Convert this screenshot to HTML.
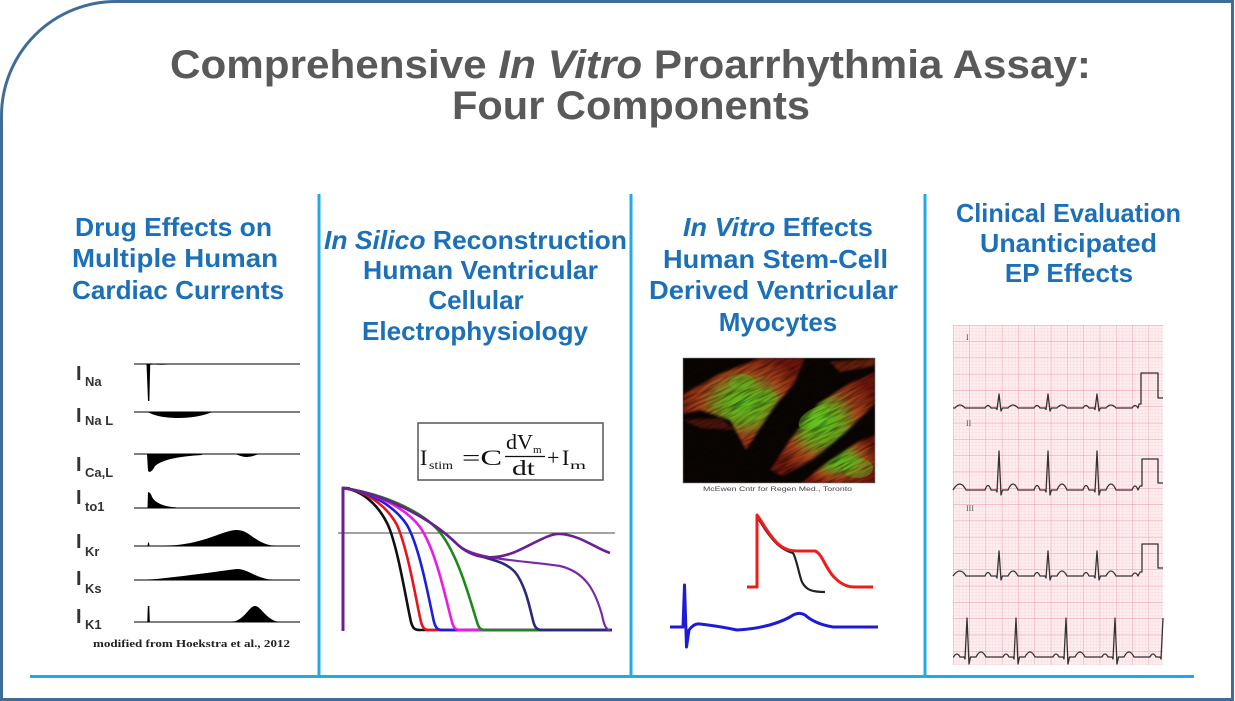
<!DOCTYPE html>
<html><head><meta charset="utf-8"><style>
html,body{margin:0;padding:0;background:#fff;}
svg{display:block;}
</style></head><body>
<svg width="1235" height="701" viewBox="0 0 1235 701" xmlns="http://www.w3.org/2000/svg">
<defs>
  <pattern id="minor" x="953" y="325" width="3.26" height="3.26" patternUnits="userSpaceOnUse">
    <path d="M0,0 H3.26 M0,0 V3.26" fill="none" stroke="#f7c6cd" stroke-width="0.5"/>
  </pattern>
  <pattern id="major" x="953" y="325" width="16.3" height="16.3" patternUnits="userSpaceOnUse">
    <path d="M0,0 H16.3 M0,0 V16.3" fill="none" stroke="#ee9ba7" stroke-width="0.9"/>
  </pattern>
  <radialGradient id="cellg" cx="50%" cy="50%" r="55%">
    <stop offset="0%" stop-color="#5cc421"/>
    <stop offset="35%" stop-color="#72a01c"/>
    <stop offset="65%" stop-color="#a8421a"/>
    <stop offset="100%" stop-color="#6a160a"/>
  </radialGradient>
  <filter id="blur" x="-10%" y="-10%" width="120%" height="120%"><feGaussianBlur stdDeviation="1.4"/></filter>
  <filter id="streak" x="0" y="0" width="100%" height="100%">
    <feTurbulence type="fractalNoise" baseFrequency="0.05 0.45" numOctaves="2" seed="7"/>
    <feColorMatrix type="matrix" values="0 0 0 0 0  0 0 0 0 0  0 0 0 0 0  2.2 0 0 0 -0.9"/>
  </filter>
  <clipPath id="imgclip"><rect x="683" y="358" width="192" height="125"/></clipPath>
</defs>

<rect width="1235" height="701" fill="#fff"/>

<!-- frame -->
<path d="M1.5,701 V116 A114.5,114.5 0 0 1 116,1.5 H1232.5 V699.5 H1.5" fill="none" stroke="#3f6d98" stroke-width="3"/>

<!-- title -->
<g font-family="'Liberation Sans', Arial, sans-serif" font-weight="bold" font-size="40" fill="#595959">
  <text x="170" y="78" textLength="921" lengthAdjust="spacingAndGlyphs">Comprehensive <tspan font-style="italic">In Vitro</tspan> Proarrhythmia Assay:</text>
  <text x="452" y="119" textLength="358" lengthAdjust="spacingAndGlyphs">Four Components</text>
</g>

<!-- blue dividers -->
<g stroke="#22a9e6" stroke-width="3" fill="none">
  <line x1="30" y1="676.5" x2="1194" y2="676.5"/>
  <line x1="319" y1="194" x2="319" y2="676"/>
  <line x1="631" y1="194" x2="631" y2="676"/>
  <line x1="925" y1="194" x2="925" y2="676"/>
</g>

<!-- headings -->
<g font-family="'Liberation Sans', Arial, sans-serif" font-weight="bold" font-size="26" fill="#1c70b8">
  <text x="75" y="236" textLength="197" lengthAdjust="spacingAndGlyphs">Drug Effects on</text>
  <text x="72" y="267" textLength="206" lengthAdjust="spacingAndGlyphs">Multiple Human</text>
  <text x="72" y="299" textLength="212" lengthAdjust="spacingAndGlyphs">Cardiac Currents</text>

  <text x="324" y="249" textLength="303" lengthAdjust="spacingAndGlyphs"><tspan font-style="italic">In Silico</tspan> Reconstruction</text>
  <text x="363" y="279" textLength="235" lengthAdjust="spacingAndGlyphs">Human Ventricular</text>
  <text x="476" y="309" text-anchor="middle">Cellular</text>
  <text x="362" y="340" textLength="226" lengthAdjust="spacingAndGlyphs">Electrophysiology</text>

  <text x="683" y="236" textLength="190" lengthAdjust="spacingAndGlyphs"><tspan font-style="italic">In Vitro</tspan> Effects</text>
  <text x="663" y="268" textLength="225" lengthAdjust="spacingAndGlyphs">Human Stem-Cell</text>
  <text x="649" y="299" textLength="249" lengthAdjust="spacingAndGlyphs">Derived Ventricular</text>
  <text x="778" y="331" text-anchor="middle">Myocytes</text>

  <text x="956" y="222" textLength="225" lengthAdjust="spacingAndGlyphs">Clinical Evaluation</text>
  <text x="980" y="252" textLength="177" lengthAdjust="spacingAndGlyphs">Unanticipated</text>
  <text x="1069" y="282" text-anchor="middle">EP Effects</text>
</g>

<!-- Column 1: currents -->
<g stroke="#555" stroke-width="1.4">
  <line x1="134" y1="364" x2="300" y2="364"/>
  <line x1="134" y1="412" x2="300" y2="412"/>
  <line x1="134" y1="454" x2="300" y2="454"/>
  <line x1="134" y1="508" x2="300" y2="508"/>
  <line x1="134" y1="546" x2="300" y2="546"/>
  <line x1="134" y1="580" x2="300" y2="580"/>
  <line x1="134" y1="622" x2="300" y2="622"/>
</g>
<g fill="#000">
  <path d="M146.5,364 L150.2,364 L149.4,401 L148,401 Z"/>
  <path d="M150,363.5 Q156,365.5 168,364.5 L150,364.5 Z"/>
  <path d="M148,412 C160,420 195,420 212,412 Z"/>
  <path d="M147,454 L148,471 Q151,474 155,466 Q165,457 202,455 L202,454 Z"/>
  <path d="M236,454 Q247,460 258,454 Z"/>
  <path d="M147.5,508 L148,492 Q150.5,492 152,497 Q157,506 176,507.5 L176,508 Z"/>
  <path d="M147.5,546 L148,542.5 L149,542.5 L149.5,546 Z"/>
  <path d="M162,546 C205,545 222,530 237,530 C250,530 255,544 275,546 Z"/>
  <path d="M146,580 C180,577 220,571 237,569 C248,569 255,578 273,580 Z"/>
  <path d="M147.3,622 L147.8,606 L149.3,606 L149.8,622 Z"/>
  <path d="M232,622 C245,620 249,606 255,606 C261,606 266,620 279,622 Z"/>
</g>
<g font-family="'Liberation Sans', Arial, sans-serif" fill="#333">
  <text x="76" y="380" font-size="20" font-weight="bold">I</text><text x="85" y="386" font-size="13" font-weight="bold">Na</text>
  <text x="76" y="422" font-size="20" font-weight="bold">I</text><text x="85" y="425" font-size="13" font-weight="bold">Na L</text>
  <text x="76" y="471" font-size="20" font-weight="bold">I</text><text x="85" y="477" font-size="13" font-weight="bold">Ca,L</text>
  <text x="76" y="504" font-size="20" font-weight="bold">I</text><text x="85" y="511" font-size="13" font-weight="bold">to1</text>
  <text x="76" y="548" font-size="20" font-weight="bold">I</text><text x="85" y="556" font-size="13" font-weight="bold">Kr</text>
  <text x="76" y="585" font-size="20" font-weight="bold">I</text><text x="85" y="593" font-size="13" font-weight="bold">Ks</text>
  <text x="76" y="623" font-size="20" font-weight="bold">I</text><text x="85" y="629" font-size="13" font-weight="bold">K1</text>
</g>
<text x="93" y="647" font-family="'Liberation Serif', 'Times New Roman', serif" font-weight="bold" font-size="11" fill="#222" textLength="197" lengthAdjust="spacingAndGlyphs">modified from Hoekstra et al., 2012</text>

<!-- Column 2: equation -->
<rect x="418" y="423" width="185" height="57" fill="none" stroke="#555" stroke-width="1.5"/>
<g font-family="'Liberation Serif', 'Times New Roman', serif" fill="#111">
  <text x="420" y="465" font-size="22">I</text>
  <text x="429" y="469" font-size="12" textLength="24" lengthAdjust="spacingAndGlyphs">stim</text>
  <text x="462" y="465" font-size="22" textLength="40" lengthAdjust="spacingAndGlyphs">=C</text>
  <text x="506" y="449" font-size="21" textLength="27" lengthAdjust="spacingAndGlyphs">dV</text>
  <text x="533" y="453" font-size="11">m</text>
  <line x1="505" y1="456.5" x2="545" y2="456.5" stroke="#111" stroke-width="1.2"/>
  <text x="512" y="475" font-size="21" textLength="23" lengthAdjust="spacingAndGlyphs">dt</text>
  <text x="547" y="465" font-size="22">+</text>
  <text x="562" y="465" font-size="22">I</text>
  <text x="570" y="469" font-size="12" textLength="16" lengthAdjust="spacingAndGlyphs">m</text>
</g>

<!-- AP curves -->
<line x1="338" y1="533" x2="615" y2="533" stroke="#444" stroke-width="1"/>
<g fill="none" stroke-width="2.6" stroke-linejoin="round">
  <path stroke="#111" d="M343,488 C360,490 377,502 388,525 C398,548 406,600 411,622 C413,629 415,630 420,630 L612,630"/>
  <path stroke="#e8141c" d="M343,488 C363,490 385,503 397,525 C408,550 416,600 421,622 C423,629 425,630 430,630 L612,630"/>
  <path stroke="#1d1de0" d="M343,488 C367,491 393,504 407,525 C420,548 429,600 434,622 C436,629 438,630 443,630 L612,630"/>
  <path stroke="#e81be8" d="M343,488 C372,492 404,506 420,527 C436,550 446,600 452,622 C454,629 456,630 461,630 L612,630"/>
  <path stroke="#1b8a1b" d="M343,488 C380,493 420,510 438,530 C458,553 470,600 477,622 C479,629 481,630 486,630 L612,630"/>
  <path stroke="#2a2a78" d="M343,488 C390,495 435,522 458,545 C475,560 500,556 515,572 C527,587 531,615 534,624 C536,629 538,630 543,630 L612,630"/>
  <path stroke="#7a2aa8" stroke-width="2.2" d="M343,488 C390,495 435,522 458,545 C475,560 520,560 560,566 C585,572 595,590 602,615 C604,625 606,630 610,630"/>
  <path stroke="#6a2090" d="M343,488 C390,495 435,522 458,545 C475,560 495,560 515,552 C535,543 550,533 560,534 C580,535 595,548 610,553"/>
  <path stroke="#6a2090" stroke-width="3" d="M343,631 L343,488 L350,488.5"/>
</g>

<!-- Column 3: cell image -->
<rect x="683" y="358" width="192" height="125" fill="#0a0502"/>
<g clip-path="url(#imgclip)">
  <g filter="url(#blur)">
    <path fill="url(#cellg)" d="M683,394 L720,374 L760,358 L805,358 L795,382 L772,410 L746,450 L730,420 L700,410 L683,414 Z"/>
    <path fill="url(#cellg)" d="M770,470 L790,440 L818,404 L852,382 L875,372 L875,404 L846,432 L812,460 L782,476 Z"/>
    <path fill="url(#cellg)" d="M798,485 L828,462 L858,442 L877,434 L877,485 Z"/>
    <path fill="#8a2612" opacity="0.7" d="M830,362 L875,358 L875,366 L840,372 Z"/>
    <path fill="#8a2612" opacity="0.5" d="M683,420 L720,418 L735,430 L700,428 Z"/>
  </g>
  <ellipse cx="742" cy="382" rx="13" ry="8" fill="#58c020" opacity="0.45"/>
  <ellipse cx="768" cy="398" rx="10" ry="8" fill="#58c020" opacity="0.4"/>
  <ellipse cx="814" cy="418" rx="17" ry="9" fill="#66cc22" opacity="0.5" transform="rotate(-30 814 418)"/>
  <ellipse cx="858" cy="468" rx="15" ry="10" fill="#62c820" opacity="0.45"/>
  <rect x="600" y="300" width="360" height="260" filter="url(#streak)" opacity="0.55" transform="rotate(-28 779 420)"/>
</g>
<rect x="683" y="358" width="192" height="125" fill="none" stroke="#888" stroke-width="0.6"/>
<text x="703" y="491" font-family="'Liberation Sans', Arial, sans-serif" font-size="6.5" fill="#444" textLength="149" lengthAdjust="spacingAndGlyphs">McEwen Cntr for Regen Med., Toronto</text>

<!-- Column 3: traces -->
<g fill="none" stroke-linejoin="round">
  <path stroke="#222" stroke-width="2.2" d="M757,517 C760,520 765,532 777,544 C785,551 790,552 793,553 C797,560 799,575 802,582 C806,590 812,592 825,592"/>
  <path stroke="#f01c1c" stroke-width="3" d="M747,587 L757,587 L757,515 C760,518 765,530 777,543 C785,550 790,551 800,551 L815,551 C822,553 826,570 835,578 C842,585 848,587 855,587 L873,587"/>
  <path stroke="#1c1cd6" stroke-width="3" d="M670,627 L683,627 L684.5,585 L686.5,647 L689,630 Q694,623 700,624 Q718,626 737,630 Q770,628 790,617 Q798,611 805,615 Q815,624 833,627 L878,627"/>
</g>

<!-- Column 4: ECG -->
<rect x="953" y="325" width="210" height="340" fill="#fdeef0"/>
<rect x="953" y="325" width="210" height="340" fill="url(#minor)"/>
<rect x="953" y="325" width="210" height="340" fill="url(#major)"/>
<g font-family="'Liberation Serif', serif" font-size="8" fill="#555">
  <text x="966" y="340">I</text>
  <text x="966" y="426">II</text>
  <text x="966" y="511">III</text>
</g>
<g fill="none" stroke="#333" stroke-width="1.3" stroke-linejoin="round">
  <path d="M953,408 L955,408 Q960,402 965,408 L985,408 Q988,403 991,408 L996,408 L997,409.5 L999,394 L1001,411 L1002.5,408 L1008,408 Q1013,402 1018,408 L1034,408 Q1037,403 1040,408 L1045,408 L1046,409.5 L1048,394 L1050,411 L1051.5,408 L1057,408 Q1062,402 1067,408 L1083,408 Q1086,403 1089,408 L1094,408 L1095,409.5 L1097,394 L1099,411 L1100.5,408 L1106,408 Q1111,402 1116,408 L1132,408 Q1135,403 1138,408 L1139,404 L1141,404 L1141,373 L1158,373 L1158,398 L1163,398"/>
  <path d="M953,490 Q960,478 966,490 L985,490 Q988,481 991,490 L996,490 L997,492 L999,451 L1001,495 L1002.5,490 L1008,490 Q1013,478 1018,490 L1034,490 Q1037,481 1040,490 L1045,490 L1046,492 L1048,451 L1050,495 L1051.5,490 L1057,490 Q1062,478 1067,490 L1083,490 Q1086,481 1089,490 L1094,490 L1095,492 L1097,451 L1099,495 L1100.5,490 L1106,490 Q1111,478 1116,490 L1132,490 Q1135,482 1138,490 L1140,486 L1142,486 L1142,459 L1158,459 L1158,483 L1163,483"/>
  <path d="M953,576 Q960,566 966,576 L985,576 Q988,569 991,576 L996,576 L997,578 L999,551 L1001,580 L1002.5,576 L1008,576 Q1013,566 1018,576 L1034,576 Q1037,569 1040,576 L1045,576 L1046,578 L1048,551 L1050,580 L1051.5,576 L1057,576 Q1062,566 1067,576 L1083,576 Q1086,569 1089,576 L1094,576 L1095,578 L1097,551 L1099,580 L1100.5,576 L1106,576 Q1111,566 1116,576 L1132,576 Q1135,570 1138,576 L1140,572 L1142,572 L1142,544 L1158,544 L1158,568 L1163,568"/>
  <path d="M953,657 L953.5,657 Q957,651 960,657 L964,657 L965,659 L967,618 L969,664 L970.5,657 L976,657 Q981,647 986,657 L1003,657 Q1006,651 1009,657 L1013,657 L1014,659 L1016,618 L1018,664 L1019.5,657 L1025,657 Q1030,647 1035,657 L1053,657 Q1056,651 1059,657 L1063,657 L1064,659 L1066,618 L1068,664 L1069.5,657 L1075,657 Q1080,647 1085,657 L1102,657 Q1105,651 1108,657 L1112,657 L1113,659 L1115,618 L1117,664 L1118.5,657 L1124,657 Q1129,647 1134,657 L1150,657 Q1153,651 1156,657 L1160,657 L1161,659 L1163,618"/>
</g>
</svg>
</body></html>
